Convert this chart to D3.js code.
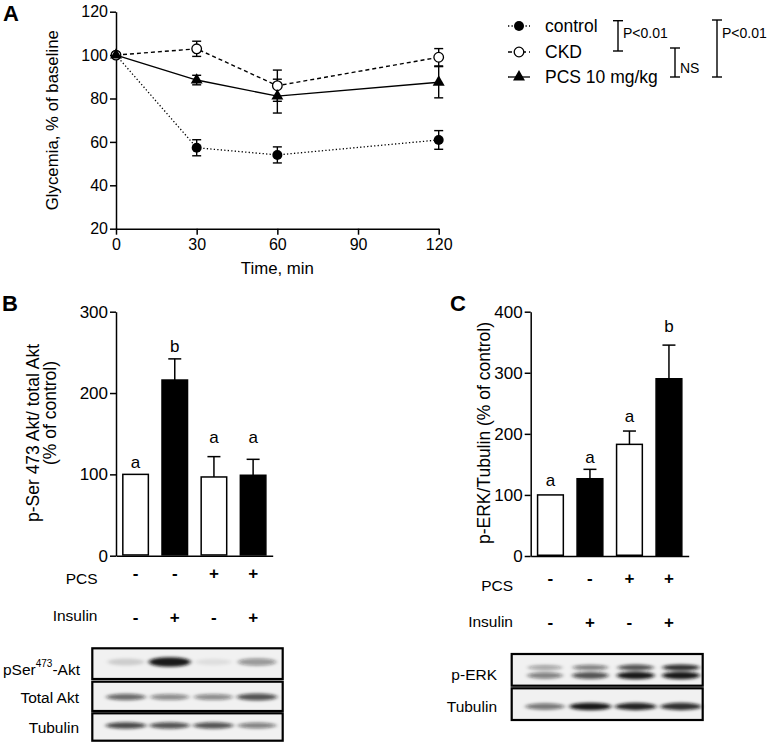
<!DOCTYPE html>
<html><head><meta charset="utf-8">
<script src="https://cdn.jsdelivr.net/npm/d3@7"></script>
<style>
body{margin:0;background:#fff}
svg{display:block}
text{font-family:"Liberation Sans",Arial,sans-serif;fill:#000}
</style>
</head><body>
<svg id="c" width="768" height="744"></svg>
<script>
// ---------- Panel A data ----------
const times=[0,30,60,120];
const controlMean=[100,57.3,54,60.9];
const controlErr=[0,3.7,3.7,4.3];
const ckdMean=[100,102.9,85.9,99];
const ckdErr=[0,3.5,7.2,4];
const pcsMean=[100,88.5,81.1,87.5];
const pcsErr=[0,2.2,7.8,7.2];
const seriesNames=["control","CKD","PCS 10 mg/kg"];
const timeTicks=[0,30,60,90,120];
const glyTicks=[20,40,60,80,100,120];
const statLabels=["P<0.01","NS","P<0.01"];

// ---------- Panel B / C data ----------
const groups=["1","2","3","4"];
const aktMean=[100,216,96.8,98.9];
const aktErr=[0,26,25,19.6];
const aktLetters=["a","b","a","a"];
const aktLetterLevel=[114,257,145,145];
const erkMean=[100,126.5,182.8,290.2];
const erkErr=[0,15.4,21.8,55.1];
const erkLetters=["a","a","a","b"];
const erkLetterLevel=[123,162,229,376];
const pcsRow=["-","-","+","+"];
const insulinRow=["-","+","-","+"];
const aktTicks=[0,100,200,300];
const erkTicks=[0,100,200,300,400];

// ---------- Blot band intensities (0..1) ----------
const pSerAkt=[0.15,0.95,0.08,0.4];
const totalAkt=[0.6,0.45,0.45,0.7];
const tubulinB=[0.75,0.7,0.7,0.5];
const pErkUpper=[0.35,0.5,0.7,0.85];
const pErkLower=[0.5,0.7,0.95,0.95];
const tubulinC=[0.55,0.95,0.9,0.85];

const FONT='"Liberation Sans",Arial,sans-serif';
const svg=d3.select("#c");

const defs=svg.append("defs");
defs.append("filter").attr("id","blur").attr("x","-50%").attr("y","-100%").attr("width","200%").attr("height","300%")
  .append("feGaussianBlur").attr("stdDeviation","2.2 1.6");

function styleAxis(g,fs){
  g.attr("font-family",FONT).attr("font-size",fs);
  g.select(".domain").attr("stroke-width",1.5).attr("stroke","#000");
  g.selectAll(".tick line").attr("stroke-width",1.5).attr("stroke","#000");
  g.selectAll(".tick text").attr("fill","#000");
}

function panelLetter(t,x,y){
  svg.append("text").attr("x",x).attr("y",y).attr("font-size",22).attr("font-weight","bold").text(t);
}

// =================== Panel A ===================
const xA=d3.scaleLinear().domain([0,120]).range([116,438.7]);
const yA=d3.scaleLinear().domain([20,120]).range([228.7,11.7]);
const gA=svg.append("g");
panelLetter("A",3,21);

gA.append("g").attr("transform",`translate(0,${yA(20)})`)
  .call(d3.axisBottom(xA).tickValues(timeTicks).tickSize(6).tickSizeOuter(0).tickPadding(4))
  .call(g=>styleAxis(g,16));
gA.append("g").attr("transform",`translate(${xA(0)},0)`)
  .call(d3.axisLeft(yA).tickValues(glyTicks).tickSize(6).tickSizeOuter(0).tickPadding(2))
  .call(g=>styleAxis(g,16));

gA.append("text").attr("transform",`translate(52,${(yA(20)+yA(120))/2}) rotate(-90)`)
  .attr("text-anchor","middle").attr("dominant-baseline","central").attr("font-size",16.8)
  .text("Glycemia, % of baseline");
gA.append("text").attr("x",(xA(0)+xA(120))/2).attr("y",268).attr("text-anchor","middle")
  .attr("dominant-baseline","central").attr("font-size",16.8).text("Time, min");

const series=[
  {name:seriesNames[0],mean:controlMean,err:controlErr,dash:"1.3,2.2",marker:"fcircle"},
  {name:seriesNames[1],mean:ckdMean,err:ckdErr,dash:"4,3",marker:"ocircle"},
  {name:seriesNames[2],mean:pcsMean,err:pcsErr,dash:null,marker:"triangle"}
];
const lineA=d3.line().x((d,i)=>xA(times[i])).y(d=>yA(d));

function drawMarker(g,type,x,y){
  if(type==="fcircle") g.append("circle").attr("cx",x).attr("cy",y).attr("r",5).attr("fill","#000");
  else if(type==="ocircle") g.append("circle").attr("cx",x).attr("cy",y).attr("r",4.8).attr("fill","#fff").attr("stroke","#000").attr("stroke-width",1.3);
  else g.append("path").attr("d",d3.symbol(d3.symbolTriangle,62)()).attr("transform",`translate(${x},${y})`).attr("fill","#000");
}

series.forEach(s=>{
  const g=gA.append("g");
  s.mean.forEach((m,i)=>{
    if(!s.err[i]) return;
    const x=xA(times[i]), y1=yA(m+s.err[i]), y2=yA(m-s.err[i]);
    g.append("line").attr("x1",x).attr("x2",x).attr("y1",y1).attr("y2",y2).attr("stroke","#000").attr("stroke-width",1.4);
    [y1,y2].forEach(y=>g.append("line").attr("x1",x-4.5).attr("x2",x+4.5).attr("y1",y).attr("y2",y).attr("stroke","#000").attr("stroke-width",1.4));
  });
  g.append("path").attr("d",lineA(s.mean)).attr("fill","none").attr("stroke","#000")
    .attr("stroke-width",s.dash&&s.dash.startsWith("1.3")?1.3:1.4).attr("stroke-dasharray",s.dash);
});
series.forEach(s=>{
  const g=gA.append("g");
  s.mean.forEach((m,i)=>drawMarker(g,s.marker,xA(times[i]),yA(m)));
});

// legend
const legY=[26,52,77];
series.forEach((s,i)=>{
  const g=gA.append("g");
  g.append("line").attr("x1",508).attr("x2",530).attr("y1",legY[i]).attr("y2",legY[i])
    .attr("stroke","#000").attr("stroke-width",1.3).attr("stroke-dasharray",s.dash);
  drawMarker(g,s.marker,519,legY[i]);
  g.append("text").attr("x",545).attr("y",legY[i]).attr("dominant-baseline","central").attr("font-size",17.5).text(s.name);
});
// significance brackets
const brackets=[
  {x:618,y1:20.7,y2:51,ly:33,label:statLabels[0]},
  {x:675,y1:48,y2:77,ly:68,label:statLabels[1]},
  {x:717,y1:20,y2:77,ly:33,label:statLabels[2]}
];
brackets.forEach(b=>{
  const g=gA.append("g").attr("stroke","#000").attr("stroke-width",1.4);
  g.append("line").attr("x1",b.x).attr("x2",b.x).attr("y1",b.y1).attr("y2",b.y2);
  g.append("line").attr("x1",b.x-5).attr("x2",b.x+5).attr("y1",b.y1).attr("y2",b.y1);
  g.append("line").attr("x1",b.x-5).attr("x2",b.x+5).attr("y1",b.y2).attr("y2",b.y2);
  gA.append("text").attr("x",b.x+5).attr("y",b.ly).attr("dominant-baseline","central").attr("font-size",14).text(b.label);
});

// =================== Bar panels ===================
function barPanel(o){
  const g=svg.append("g");
  const y=d3.scaleLinear().domain(o.domain).range(o.yRange);
  const x=d3.scaleBand().domain(groups).range(o.xRange).paddingInner(0.31).paddingOuter(0.155);
  g.append("g").attr("transform",`translate(${o.xRange[0]},0)`)
    .call(d3.axisLeft(y).tickValues(o.ticks).tickSize(6).tickSizeOuter(0).tickPadding(2))
    .call(a=>styleAxis(a,17));
  g.append("g").attr("transform",`translate(0,${y(0)})`)
    .call(d3.axisBottom(x).tickSize(0).tickSizeOuter(0).tickFormat(""))
    .call(a=>styleAxis(a,17));
  // error bars
  groups.forEach((k,i)=>{
    if(!o.err[i]) return;
    const cx=x(k)+x.bandwidth()/2, yt=y(o.mean[i]+o.err[i]);
    g.append("line").attr("x1",cx).attr("x2",cx).attr("y1",y(o.mean[i])).attr("y2",yt).attr("stroke","#000").attr("stroke-width",1.5);
    g.append("line").attr("x1",cx-6.5).attr("x2",cx+6.5).attr("y1",yt).attr("y2",yt).attr("stroke","#000").attr("stroke-width",1.5);
  });
  g.selectAll("rect.bar").data(groups).join("rect").attr("class","bar")
    .attr("x",k=>x(k)+0.75).attr("width",x.bandwidth()-1.5)
    .attr("y",(k,i)=>y(o.mean[i])).attr("height",(k,i)=>y(0)-y(o.mean[i])-0.75)
    .attr("fill",(k,i)=>insulinRow[i]==="+"?"#000":"#fff").attr("stroke","#000").attr("stroke-width",1.5);
  g.selectAll("text.let").data(groups).join("text").attr("class","let")
    .attr("x",k=>x(k)+x.bandwidth()/2).attr("y",(k,i)=>y(o.letterLevel[i]))
    .attr("text-anchor","middle").attr("dominant-baseline","central").attr("font-size",17)
    .text((k,i)=>o.letters[i]);
  // y label
  o.ylabel.forEach(l=>{
    g.append("text").attr("transform",`translate(${l.x},${l.y}) rotate(-90)`)
      .attr("text-anchor","middle").attr("dominant-baseline","central").attr("font-size",17.5).text(l.t);
  });
  // sign rows
  const rows=[{lab:"PCS",vals:pcsRow,ly:o.pcsY[0],sy:o.pcsY[1]},{lab:"Insulin",vals:insulinRow,ly:o.insY[0],sy:o.insY[1]}];
  rows.forEach(r=>{
    g.append("text").attr("x",o.labelRight).attr("y",r.ly).attr("text-anchor","end").attr("font-size",15.5).text(r.lab);
    groups.forEach((k,i)=>{
      g.append("text").attr("x",x(k)+x.bandwidth()/2).attr("y",r.sy).attr("text-anchor","middle")
        .attr("font-size",17).attr("font-weight","bold").text(r.vals[i]);
    });
  });
  return {x,y,g};
}

panelLetter("B",2,311);
barPanel({domain:[0,300],yRange:[555.7,311.7],xRange:[116,272.7],ticks:aktTicks,
  mean:aktMean,err:aktErr,letters:aktLetters,letterLevel:aktLetterLevel,
  ylabel:[{t:"p-Ser 473 Akt/ total Akt",x:33,y:433},{t:"(% of control)",x:50,y:413}],
  pcsY:[584,578.5],insY:[620.5,622.5],labelRight:97.5});

panelLetter("C",450,311);
barPanel({domain:[0,400],yRange:[556,311.7],xRange:[530.7,688.7],ticks:erkTicks,
  mean:erkMean,err:erkErr,letters:erkLetters,letterLevel:erkLetterLevel,
  ylabel:[{t:"p-ERK/Tubulin (% of control)",x:484,y:433}],
  pcsY:[590.5,583.5],insY:[626.5,628],labelRight:513});

// =================== Blots ===================
function blot(box,lanes,bands,label){
  const g=svg.append("g");
  g.append("rect").attr("x",box[0]).attr("y",box[2]).attr("width",box[1]-box[0]).attr("height",box[3]-box[2])
    .attr("fill","#f1f1f1").attr("stroke","#000").attr("stroke-width",2.2);
  const bg=g.append("g").attr("filter","url(#blur)");
  bands.forEach(b=>{
    b.vals.forEach((v,i)=>{
      bg.append("ellipse").attr("cx",lanes(i)).attr("cy",b.y).attr("rx",b.rx*(0.85+0.15*v)).attr("ry",b.ry*(0.7+0.4*v))
        .attr("fill","#111").attr("fill-opacity",Math.min(1,v));
    });
  });
  return g;
}
function blotLabel(x,y,parts){
  const t=svg.append("text").attr("x",x).attr("y",y).attr("text-anchor","end").attr("dominant-baseline","central").attr("font-size",15.5);
  parts.forEach(p=>{
    const ts=t.append("tspan").text(p.t);
    if(p.sup) ts.attr("font-size",10).attr("baseline-shift","super");
  });
}
const lanesB=d3.scalePoint().domain([0,1,2,3]).range([126,257]);
const lanesC=d3.scalePoint().domain([0,1,2,3]).range([545,681]);

blot([92.3,282.7,648.3,679],lanesB,[{vals:pSerAkt,y:662,rx:21,ry:4.5}]);
blot([92.3,282.7,681.7,711],lanesB,[{vals:totalAkt,y:697,rx:21,ry:3.5}]);
blot([92.3,282.7,713.3,740.7],lanesB,[{vals:tubulinB,y:725.5,rx:21,ry:3.2}]);
blotLabel(80,669,[{t:"pSer"},{t:"473",sup:true},{t:"-Akt"}]);
blotLabel(79,697,[{t:"Total Akt"}]);
blotLabel(79,727,[{t:"Tubulin"}]);

blot([511.7,702.7,654,685.7],lanesC,[{vals:pErkUpper,y:667.5,rx:19,ry:3},{vals:pErkLower,y:675.5,rx:19,ry:3.5}]);
blot([511.7,702.7,688.3,720],lanesC,[{vals:tubulinC,y:706.5,rx:21,ry:3.5}]);
blotLabel(497,673.5,[{t:"p-ERK"}]);
blotLabel(497,705.5,[{t:"Tubulin"}]);
</script>
</body></html>
